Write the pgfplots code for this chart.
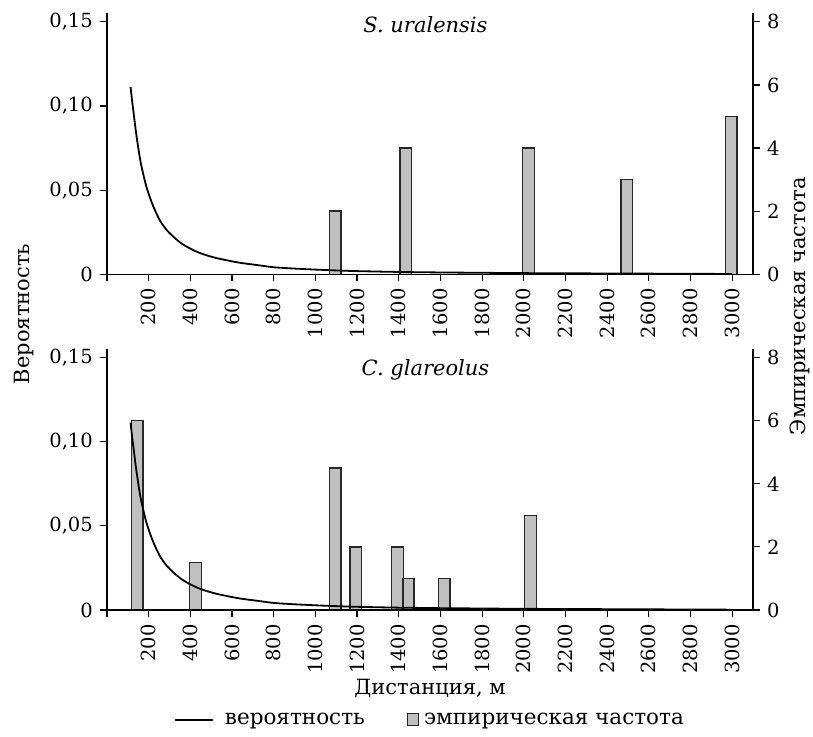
\documentclass[border=0pt]{standalone}
\usepackage{fontspec}
\setmainfont{DejaVu Serif}
\usepackage{pgfplots}
\pgfplotsset{compat=1.18}
\definecolor{barfill}{RGB}{192,192,192}
\definecolor{baredge}{RGB}{40,40,40}

\pgfplotsset{
  panel/.style={
    scale only axis, width=646pt, height=261pt,
    xmin=0, xmax=3100, anchor=south west,
    tick align=outside, major tick length=7pt,
    axis line style={line width=1.2pt},
    every tick/.style={line width=1.2pt, black},
    /pgf/number format/assume math mode=true,
    ticklabel style={font=\fontsize{19.5}{21}\selectfont},
    xtick={0,200,...,3000},
  },
  leftax/.style={
    panel, axis x line*=bottom, axis y line*=left,
    ymin=0, ymax=0.155,
    ytick={0,0.05,0.1,0.15}, yticklabels={0,{0,05},{0,10},{0,15}},
    xticklabels={,200,400,600,800,1000,1200,1400,1600,1800,2000,2200,2400,2600,2800,3000},
    xticklabel style={rotate=90, anchor=east},
  },
  rightax/.style={
    panel, axis y line*=right, axis x line=none,
    ymin=0, ymax=8.27, ytick={0,2,...,8},
    ybar, bar width=56, bar shift=0pt,
  },
  bars/.style={fill=barfill, draw=baredge, line width=1.4pt},
  curve/.style={smooth, black, line width=1.8pt},
}

\begin{document}
\fontsize{21}{24}\selectfont
\begin{tikzpicture}[x=1pt,y=1pt]
\useasboundingbox (0,0) rectangle (813,-736);

% upper panel
\begin{axis}[rightax, at={(107pt,-274.3pt)}]
\addplot[bars] coordinates {
(1095,2) (1434,4) (2023,4) (2494,3) (2996,5)};
\end{axis}
\begin{axis}[leftax, at={(107pt,-274.3pt)}]
\addplot[curve] coordinates {
(113,0.1113) (120,0.1035) (128,0.0955) (138,0.0855) (149,0.0760)
(160,0.0675) (173,0.0600) (188,0.0525) (205,0.0460) (225,0.0395)
(253,0.0322) (285,0.0265) (317,0.0225) (350,0.0190) (381,0.0165)
(420,0.0140) (460,0.0120) (520,0.0098) (580,0.0082) (640,0.0068)
(720,0.0055) (800,0.0042) (900,0.0034) (1000,0.0028) (1100,0.0023)
(1200,0.0019) (1400,0.0014) (1600,0.0011) (1800,0.0009) (2000,0.0007)
(2400,0.0005) (2800,0.0003) (3000,0.0002)};
\node[font=\itshape] at (axis description cs:0.493,0.955) {S. uralensis};
\end{axis}

% lower panel
\begin{axis}[rightax, at={(107pt,-610pt)}]
\addplot[bars] coordinates {
(145,6) (425,1.5) (1095,4.5) (1194,2) (1394,2) (1446,1) (1618,1) (2032,3)};
\end{axis}
\begin{axis}[leftax, at={(107pt,-610pt)},
  xlabel={Дистанция, м},
  xlabel style={at={(axis description cs:0.5,-0.301)}, anchor=center},
  legend style={at={(axis description cs:0.5,-0.421)}, anchor=center,
    draw=none, legend columns=2, font=\fontsize{21.5}{24}\selectfont,
    /tikz/every even column/.append style={column sep=40pt}},
  ]
\addplot[curve,
  legend image code/.code={\draw[black, line width=1.8pt] (0pt,0pt) -- (38pt,0pt);}]
  coordinates {
(113,0.1113) (120,0.1035) (128,0.0955) (138,0.0855) (149,0.0760)
(160,0.0675) (173,0.0600) (188,0.0525) (205,0.0460) (225,0.0395)
(253,0.0322) (285,0.0265) (317,0.0225) (350,0.0190) (381,0.0165)
(420,0.0140) (460,0.0120) (520,0.0098) (580,0.0082) (640,0.0068)
(720,0.0055) (800,0.0042) (900,0.0034) (1000,0.0028) (1100,0.0023)
(1200,0.0019) (1400,0.0014) (1600,0.0011) (1800,0.0009) (2000,0.0007)
(2400,0.0005) (2800,0.0003) (3000,0.0002)};
\addlegendentry{\hspace{9pt}вероятность}
\addlegendimage{legend image code/.code={\draw[fill=barfill, draw=baredge, line width=1.2pt] (0pt,-6pt) rectangle (11pt,6pt);}}
\addlegendentry{\hspace{3pt}эмпирическая частота}
\node[font=\itshape] at (axis description cs:0.493,0.92) {C. glareolus};
\end{axis}

\node[rotate=90] at (24,-314) {Вероятность};
\node[rotate=90] at (800,-306) {Эмпирическая частота};
\end{tikzpicture}
\end{document}
